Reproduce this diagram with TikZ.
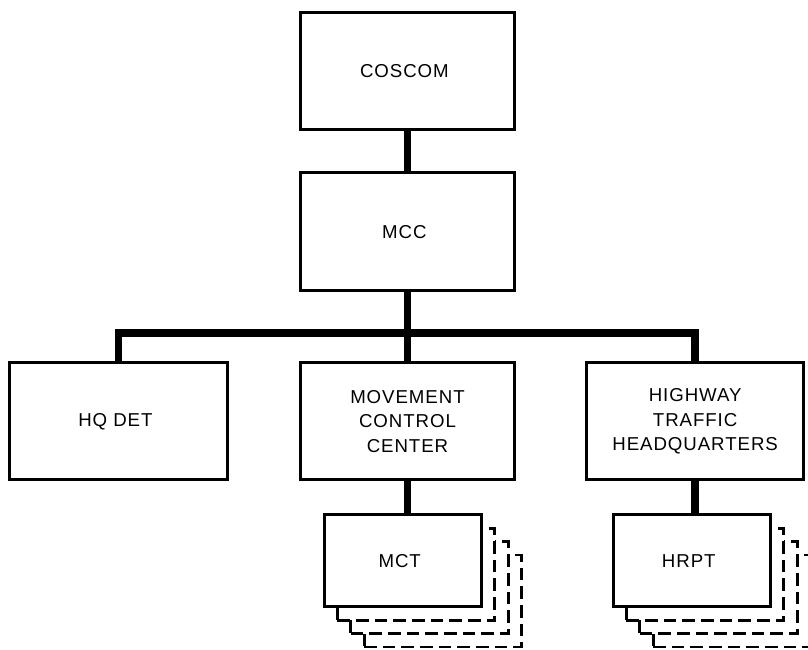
\documentclass[tikz,border=0pt]{standalone}
\usepackage{fontspec}
\setmainfont{Liberation Sans}[LetterSpace=5]
\usepackage{tikz}
\usetikzlibrary{positioning,backgrounds}
\tikzset{
  every node/.style={
    font=\fontsize{14pt}{18.4pt}\selectfont
  },
  unit/.style={
    shape=rectangle,
    draw=black,
    line width=2.25pt,
    fill=white,
    minimum width=160pt,
    minimum height=88pt,
    inner sep=0pt,
    align=center
  },
  side unit/.style={
    unit,
    minimum width=163pt
  },
  team/.style={
    unit,
    minimum width=118pt,
    minimum height=69pt
  },
  ghost/.style={
    team,
    line width=2.2pt,
    dash pattern=on 9.5pt off 4.5pt
  },
  link/.style={
    line width=5.6pt
  }
}

\begin{document}
\begin{tikzpicture}
  \useasboundingbox (0,0) rectangle (606pt,487.5pt);

  \node [unit] (coscom) at (305.6pt,434pt) { COSCOM };
  \node [unit, below=30pt of coscom] (mcc) { MCC };
  \node [unit, below=52pt of mcc] (mvc) { MOVEMENT\\CONTROL\\CENTER };
  \node [side unit, left=53pt of mvc] (hqdet) { HQ DET };
  \node [side unit, right=52pt of mvc] (hwy) { HIGHWAY\\TRAFFIC\\HEADQUARTERS };
  \node [team, below=24pt of mvc, xshift=-3.5pt] (mct) { MCT };
  \node [team, below=24pt of hwy, xshift=-2.5pt] (hrpt) { HRPT };

  % stacked copies behind the teams
  \begin{scope}[on background layer]
    \foreach \k in {3,2,1} {
      \node [ghost] (mct\k) at ([shift={(\k*10pt,-\k*10pt)}]mct.center) {};
      \node [ghost] (hrpt\k) at ([shift={(\k*10pt,-\k*10pt)}]hrpt.center) {};
    }
  \end{scope}

  \coordinate [below=31pt of mcc] (bus);
  \draw [link] (coscom.south) -- (mcc.north);
  \draw [link] (mcc.south) -- (mvc.north);
  \draw [link] (hqdet.north) |- (bus) -| (hwy.north);
  \draw [link] (mvc.south) -- (mvc.south |- mct.north);
  \draw [link] (hwy.south) -- (hwy.south |- hrpt.north);
\end{tikzpicture}
\end{document}
